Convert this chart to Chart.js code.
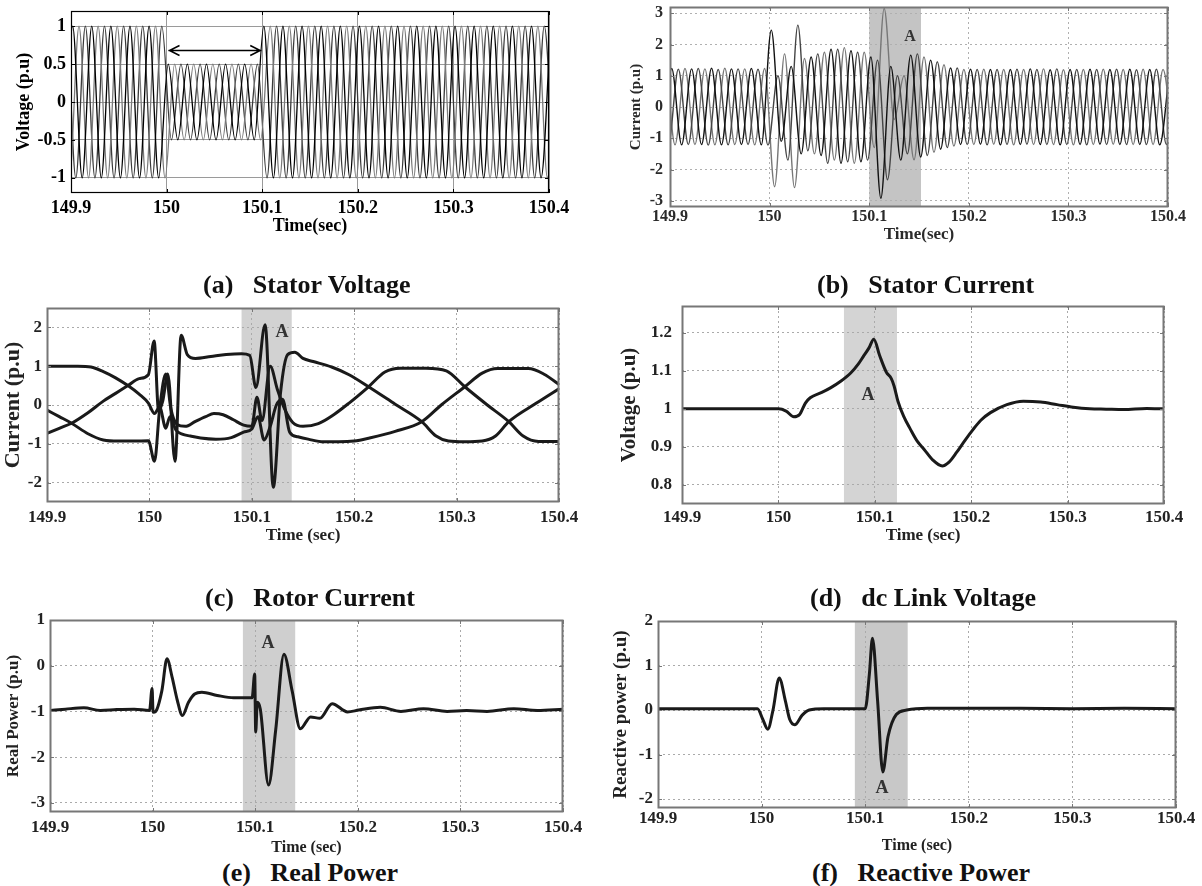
<!DOCTYPE html>
<html>
<head>
<meta charset="utf-8">
<script src="https://cdn.jsdelivr.net/npm/chart.js@4.4.1/dist/chart.umd.min.js"></script>
<style>
  html, body { margin: 0; padding: 0; background: #fff; }
  #fig { position: relative; width: 1202px; height: 886px; overflow: hidden; background: #fff; }
  #fig canvas { position: absolute; }
  .cap { position: absolute; font: bold 26px "Liberation Serif", "Times New Roman", serif; color: #111;
         white-space: pre; transform: translateY(-50%); line-height: 1; }
</style>
</head>
<body>
<div id="fig">
  <canvas id="cvA"></canvas>
  <canvas id="cvB"></canvas>
  <canvas id="cvC"></canvas>
  <canvas id="cvD"></canvas>
  <canvas id="cvE"></canvas>
  <canvas id="cvF"></canvas>
  <div class="cap" style="left:203px;top:285px">(a)   Stator Voltage</div>
  <div class="cap" style="left:817px;top:285px">(b)   Stator Current</div>
  <div class="cap" style="left:205px;top:598px">(c)   Rotor Current</div>
  <div class="cap" style="left:810px;top:598px">(d)   dc Link Voltage</div>
  <div class="cap" style="left:222px;top:873px">(e)   Real Power</div>
  <div class="cap" style="left:812px;top:873px">(f)   Reactive Power</div>
</div>
<script>
// ---- tick labels ----
const timeTicks = [149.9, 150, 150.1, 150.2, 150.3, 150.4];
const voltTicks = [-1, -0.5, 0, 0.5, 1];
const statorCurTicks = [-3, -2, -1, 0, 1, 2, 3];
const rotorCurTicks = [-2, -1, 0, 1, 2];
const dcTicks = [0.8, 0.9, 1, 1.1, 1.2];
const realTicks = [-3, -2, -1, 0, 1];
const reactTicks = [-2, -1, 0, 1, 2];

// ---- (a) stator voltage: peak value of every half cycle, per phase (50 Hz) ----
const halfCycle = 0.01;
const peakStart = 149.8817;
const phaseShift = { a: 0, c: 0.00333, b: 0.00667 };

const voltPeaksA = [
  1, -1, 1, -1, 1, -1, 1, -1, 1, -1, 1, -1,
  0.5, -0.5, 0.5, -0.5, 0.5, -0.5, 0.5, -0.5, 0.5, -0.5,
  1, -1, 1, -1, 1, -1, 1, -1, 1, -1, 1, -1, 1, -1, 1, -1,
  1, -1, 1, -1, 1, -1, 1, -1, 1, -1, 1, -1, 1, -1, 1
];
const voltPeaksB = [
  1, -1, 1, -1, 1, -1, 1, -1, 1, -1, 1, -1,
  0.5, -0.5, 0.5, -0.5, 0.5, -0.5, 0.5, -0.5, 0.5, -0.5,
  1, -1, 1, -1, 1, -1, 1, -1, 1, -1, 1, -1, 1, -1, 1, -1,
  1, -1, 1, -1, 1, -1, 1, -1, 1, -1, 1, -1, 1, -1, 1
];
const voltPeaksC = [
  -1, 1, -1, 1, -1, 1, -1, 1, -1, 1, -1, 1,
  -0.5, 0.5, -0.5, 0.5, -0.5, 0.5, -0.5, 0.5, -0.5, 0.5,
  -1, 1, -1, 1, -1, 1, -1, 1, -1, 1, -1, 1, -1, 1, -1, 1,
  -1, 1, -1, 1, -1, 1, -1, 1, -1, 1, -1, 1, -1, 1, -1
];

// ---- (b) stator current: peak of every half cycle, per phase ----
const curPeaksA = [
  1.22, -1.2, 1.23, -1.21, 1.22, -1.2, 1.24, -1.21, 1.22, -1.2, 1.23, -1.21,
  2.46, -1.1, 1.3, -1.5, 1.6, -1.55, 1.85, -1.8, 1.8, -1.75,
  1.6, -2.92, 1.3, -1.7, 1.66, -1.6, 1.5, -1.35, 1.25,
  -1.2, 1.21, -1.19, 1.2, -1.21, 1.2, -1.2, 1.22, -1.2, 1.19, -1.21,
  1.2, -1.2, 1.21, -1.19, 1.2, -1.2, 1.21, -1.2, 1.2, -1.21, 1.2
];
const curPeaksC = [
  -1.2, 1.22, -1.21, 1.23, -1.2, 1.22, -1.21, 1.24, -1.2, 1.22, -1.21, 1.23,
  -2.55, 1.7, -2.58, 1.55, -1.5, 1.75, -1.7, 1.9, -1.8, 1.75,
  -1.3, 3.15, -0.4, 1.0, -1.69, 1.6, -1.45, 1.35, -1.25,
  1.2, -1.2, 1.21, -1.19, 1.2, -1.21, 1.2, -1.2, 1.22, -1.2, 1.19,
  -1.21, 1.2, -1.2, 1.21, -1.19, 1.2, -1.2, 1.21, -1.2, 1.2, -1.21
];
const curPeaksB = [
  1.2, -1.22, 1.21, -1.2, 1.23, -1.22, 1.2, -1.21, 1.22, -1.2, 1.21, -1.22,
  1.0, -1.7, 2.62, -1.4, 1.7, -1.8, 1.85, -1.75, 1.75, -1.7,
  1.5, -2.33, 1.0, -1.5, 1.7, -1.55, 1.45, -1.3, 1.25,
  -1.2, 1.2, -1.21, 1.2, -1.2, 1.21, -1.19, 1.2, -1.2, 1.22, -1.2,
  1.2, -1.21, 1.2, -1.2, 1.21, -1.2, 1.19, -1.2, 1.21, -1.2, 1.2
];

// ---- (c) rotor current, three phases ----
const rotorTimeA = [149.9, 149.915, 149.93, 149.943, 149.955, 149.967, 149.979, 149.99, 149.999, 150.005,
  150.01, 150.016, 150.02, 150.026, 150.032, 150.04, 150.05, 150.065, 150.08, 150.092,
  150.1, 150.106, 150.112, 150.118, 150.124, 150.13, 150.137, 150.145, 150.155, 150.17,
  150.185, 150.2, 150.215, 150.24, 150.266, 150.285, 150.308, 150.325, 150.34, 150.37,
  150.385, 150.403];
const rotorCurA = [1.0, 1.0, 1.0, 0.98, 0.86, 0.7, 0.5, 0.28, 0.05, -0.22,
  -0.05, -0.6, -0.3, -0.65, -0.75, -0.8, -0.85, -0.88, -0.84, -0.7,
  -0.62, -0.3, -0.9, -0.55, 0.0, 0.15, -0.7, -0.82, -0.88, -0.95,
  -0.95, -0.93, -0.85, -0.68, -0.43, 0.0, 0.47, 0.82, 0.94, 0.94,
  0.8, 0.47];
const rotorTimeB = [149.9, 149.912, 149.924, 149.94, 149.955, 149.97, 149.985, 149.999, 150.005, 150.01,
  150.016, 150.021, 150.027, 150.035, 150.045, 150.055, 150.063, 150.072, 150.082, 150.092,
  150.1, 150.105, 150.11, 150.118, 150.125, 150.132, 150.14, 150.15, 150.165, 150.18,
  150.195, 150.214, 150.23, 150.245, 150.27, 150.29, 150.308, 150.33, 150.351, 150.365,
  150.38, 150.4];
const rotorCurB = [-0.13, -0.3, -0.47, -0.74, -0.9, -0.93, -0.93, -0.92, -1.45, -0.1,
  0.8, -0.1, -0.5, -0.55, -0.42, -0.3, -0.22, -0.25, -0.38, -0.52,
  -0.55, 0.2, -0.4, 1.0, 0.4, -0.1, -0.45, -0.55, -0.48, -0.25,
  0.05, 0.47, 0.85, 0.95, 0.95, 0.88, 0.47, 0.0, -0.43, -0.8,
  -0.94, -0.94];
const rotorTimeC = [149.9, 149.912, 149.924, 149.94, 149.955, 149.967, 149.979, 149.99, 149.999, 150.0046,
  150.009, 150.013, 150.018, 150.025, 150.031, 150.037, 150.045, 150.06, 150.075, 150.09,
  150.098, 150.104, 150.113, 150.121, 150.128, 150.135, 150.142, 150.15, 150.16, 150.178,
  150.195, 150.214, 150.24, 150.266, 150.28, 150.292, 150.308, 150.325, 150.338, 150.351,
  150.378, 150.403];
const rotorCurC = [-0.73, -0.6, -0.47, -0.2, 0.1, 0.3, 0.5, 0.68, 0.78, 1.65,
  -0.15, 0.1, 0.8, -1.45, 1.8, 1.3, 1.2, 1.25, 1.3, 1.32,
  1.28, 0.45, 2.07, -2.12, 0.3, 1.3, 1.36, 1.2, 1.12, 0.98,
  0.78, 0.47, 0.02, -0.43, -0.8, -0.93, -0.95, -0.93, -0.8, -0.43,
  0.05, 0.47];

// ---- (d) dc link voltage ----
const dcTime = [149.9, 150.0, 150.008, 150.016, 150.022, 150.028, 150.033, 150.045, 150.054, 150.065,
  150.075, 150.083, 150.088, 150.094, 150.099, 150.105, 150.112, 150.117, 150.12, 150.124,
  150.13, 150.137, 150.144, 150.151, 150.16, 150.17, 150.177, 150.185, 150.193, 150.202,
  150.21, 150.22, 150.237, 150.254, 150.272, 150.289, 150.306, 150.323, 150.34, 150.358,
  150.382, 150.4];
const dcVolt = [1.0, 1.0, 0.994, 0.979, 0.985, 1.015, 1.029, 1.043, 1.055, 1.073,
  1.094, 1.118, 1.137, 1.16, 1.183, 1.14, 1.096, 1.08, 1.06, 1.02,
  0.98, 0.946, 0.915, 0.894, 0.866, 0.85, 0.86, 0.886, 0.915, 0.946,
  0.97, 0.99, 1.011, 1.02, 1.018, 1.011, 1.004, 1.0, 0.999, 0.998,
  1.001, 1.0];

// ---- (e) real power ----
const realTime = [149.9, 149.915, 149.933, 149.949, 149.965, 149.982, 149.997, 149.9995, 150.0005, 150.003,
  150.009, 150.014, 150.019, 150.024, 150.029, 150.035, 150.041, 150.048, 150.063, 150.079,
  150.097, 150.0995, 150.1005, 150.102, 150.105, 150.113, 150.12, 150.128, 150.136, 150.144,
  150.154, 150.163, 150.175, 150.19, 150.201, 150.222, 150.242, 150.264, 150.287, 150.306,
  150.326, 150.352, 150.375, 150.4];
const realPower = [-0.98, -0.95, -0.92, -0.98, -0.96, -0.95, -0.98, -0.5, -1.02, -1.0,
  -0.55, 0.15, -0.25, -0.75, -1.09, -0.8, -0.62, -0.58, -0.65, -0.7,
  -0.7, -0.18, -1.45, -0.8, -0.95, -2.61, -1.4, 0.25, -0.55, -1.38,
  -1.12, -1.15, -0.83, -1.01, -0.97, -0.91, -1.0, -0.94, -1.0, -0.98,
  -1.0, -0.94, -0.98, -0.95];

// ---- (f) reactive power ----
const reactTime = [149.9, 149.95, 149.996, 150.001, 150.006, 150.011, 150.017, 150.023, 150.027, 150.032,
  150.039, 150.046, 150.06, 150.1, 150.104, 150.107, 150.112, 150.117, 150.122, 150.13,
  150.14, 150.16, 150.2, 150.25, 150.3, 150.35, 150.4];
const reactPower = [0.03, 0.03, 0.03, -0.2, -0.43, 0.0, 0.72, 0.2, -0.2, -0.33,
  -0.12, 0.0, 0.03, 0.03, 0.8, 1.61, 0.2, -1.39, -0.6, -0.1,
  0.0, 0.04, 0.04, 0.04, 0.03, 0.04, 0.03];

// ---- helpers ----
function wavePoints(peaks, shift) {
  return peaks.map((v, k) => ({ x: peakStart + shift + k * halfCycle, y: v }));
}
function zipPoints(ts, vs) {
  return ts.map((t, i) => ({ x: t, y: vs[i] }));
}
function fmtTick(v) {
  return String(Math.round(v * 100) / 100);
}
const SERIF = "'Liberation Serif', 'Times New Roman', serif";

// shading, "A" notes, arrow and matlab-like frame
const panelDecor = {
  id: 'panelDecor',
  beforeDraw(chart, args, o) {
    if (!o.shade) return;
    const { ctx, chartArea: a } = chart;
    const x = chart.scales.x;
    const x0 = x.getPixelForValue(o.shade[0]);
    const x1 = x.getPixelForValue(o.shade[1]);
    ctx.save();
    ctx.fillStyle = o.shadeColor;
    ctx.fillRect(x0, a.top, x1 - x0, a.bottom - a.top);
    ctx.restore();
  },
  afterDatasetsDraw(chart, args, o) {
    const { ctx } = chart;
    const { x, y } = chart.scales;
    if (o.arrow) {
      const ax0 = x.getPixelForValue(o.arrow.from);
      const ax1 = x.getPixelForValue(o.arrow.to);
      const ay = Math.round(y.getPixelForValue(o.arrow.at)) + 0.5;
      ctx.save();
      ctx.strokeStyle = '#000';
      ctx.lineWidth = 1.5;
      ctx.beginPath();
      ctx.moveTo(ax0, ay); ctx.lineTo(ax1, ay);
      ctx.moveTo(ax0 + 11, ay - 5); ctx.lineTo(ax0 + 1, ay); ctx.lineTo(ax0 + 11, ay + 5);
      ctx.moveTo(ax1 - 11, ay - 5); ctx.lineTo(ax1 - 1, ay); ctx.lineTo(ax1 - 11, ay + 5);
      ctx.stroke();
      ctx.restore();
    }
    (o.notes || []).forEach(n => {
      ctx.save();
      ctx.font = n.font;
      ctx.fillStyle = n.color;
      ctx.textAlign = 'center';
      ctx.textBaseline = 'middle';
      ctx.fillText(n.text, x.getPixelForValue(n.x), y.getPixelForValue(n.y));
      ctx.restore();
    });
  },
  afterDraw(chart, args, o) {
    const { ctx, chartArea: a } = chart;
    const { x, y } = chart.scales;
    ctx.save();
    ctx.strokeStyle = o.frameColor || '#000';
    ctx.lineWidth = o.frameWidth || 1;
    ctx.strokeRect(a.left + 0.5, a.top + 0.5, a.right - a.left - 1, a.bottom - a.top - 1);
    ctx.lineWidth = 1;
    ctx.beginPath();
    x.ticks.forEach(t => {
      const px = Math.round(x.getPixelForValue(t.value)) + 0.5;
      ctx.moveTo(px, a.bottom); ctx.lineTo(px, a.bottom - 4);
      ctx.moveTo(px, a.top); ctx.lineTo(px, a.top + 4);
    });
    y.ticks.forEach(t => {
      const py = Math.round(y.getPixelForValue(t.value)) + 0.5;
      ctx.moveTo(a.left, py); ctx.lineTo(a.left + 4, py);
      ctx.moveTo(a.right, py); ctx.lineTo(a.right - 4, py);
    });
    ctx.stroke();
    ctx.restore();
  }
};
Chart.register(panelDecor);

const PAD_TOP = 24, PAD_RIGHT = 32;

function buildPanel(p) {
  const cv = document.getElementById(p.id);
  const left = Math.round(p.yTitleX - 0.6 * p.yTitleSize);
  const top = p.area.t - PAD_TOP;
  const right = p.area.r + PAD_RIGHT;
  const bottom = Math.round(p.xTitleY + 0.6 * p.xTitleSize);
  const W = right - left, H = bottom - top;
  cv.width = W; cv.height = H;
  cv.style.left = left + 'px'; cv.style.top = top + 'px';
  cv.style.width = W + 'px'; cv.style.height = H + 'px';
  const wy = p.area.l - left;
  const hx = bottom - p.area.b;
  const xPad = Math.max(0, p.xLabY - p.area.b - 0.6 * p.tickSize);
  const yPad = p.area.l - p.yLabRight;
  const tickFont = { family: SERIF, size: p.tickSize, weight: 'bold' };
  const gridOpts = { color: p.gridColor, lineWidth: 1, drawTicks: false };
  const gridDash = p.gridDash || [];

  new Chart(cv, {
    type: 'line',
    data: {
      datasets: p.series.map(s => ({
        data: s.points,
        borderColor: s.color,
        borderWidth: s.width,
        pointRadius: 0,
        fill: false,
        cubicInterpolationMode: 'monotone'
      }))
    },
    options: {
      responsive: false,
      animation: false,
      events: [],
      layout: { padding: { left: 0, top: PAD_TOP, right: PAD_RIGHT, bottom: 0 } },
      plugins: {
        legend: { display: false },
        tooltip: { enabled: false },
        panelDecor: p.decor
      },
      scales: {
        x: {
          type: 'linear',
          min: 149.9,
          max: 150.4,
          afterFit: s => { s.height = hx; },
          afterBuildTicks: s => { s.ticks = timeTicks.map(v => ({ value: v })); },
          grid: gridOpts,
          border: { display: false, dash: gridDash },
          ticks: { padding: xPad, font: tickFont, color: p.textColor, callback: fmtTick,
                   maxRotation: 0, autoSkip: false },
          title: { display: true, text: p.xTitle, color: p.textColor, padding: 0,
                   font: { family: SERIF, size: p.xTitleSize, weight: 'bold' } }
        },
        y: {
          type: 'linear',
          min: p.yMin,
          max: p.yMax,
          afterFit: s => { s.width = wy; },
          afterBuildTicks: s => { s.ticks = p.yTicks.map(v => ({ value: v })); },
          grid: gridOpts,
          border: { display: false, dash: gridDash },
          ticks: { padding: yPad, font: tickFont, color: p.textColor, callback: fmtTick, autoSkip: false },
          title: { display: true, text: p.yTitle, color: p.textColor, padding: 0,
                   font: { family: SERIF, size: p.yTitleSize, weight: 'bold' } }
        }
      }
    }
  });
}

const noteFont = "bold 18px 'Liberation Serif', serif";

const panels = [
  {
    id: 'cvA', area: { l: 71, t: 11, r: 549, b: 193 },
    yMin: -1.2, yMax: 1.2, yTicks: voltTicks,
    yTitle: 'Voltage (p.u)', xTitle: 'Time(sec)',
    yTitleX: 25, xTitleY: 226, xLabY: 208, yLabRight: 66,
    tickSize: 18, yTitleSize: 18, xTitleSize: 18, textColor: '#000',
    gridColor: '#9a9a9a',
    series: [
      { points: wavePoints(voltPeaksA, phaseShift.a), color: '#000', width: 1.3 },
      { points: wavePoints(voltPeaksB, phaseShift.b), color: '#7a7a7a', width: 1.3 },
      { points: wavePoints(voltPeaksC, phaseShift.c), color: '#3a3a3a', width: 1.3 }
    ],
    decor: { arrow: { from: 150.002, to: 150.099, at: 0.69 }, frameColor: '#000', frameWidth: 1.2 }
  },
  {
    id: 'cvB', area: { l: 670, t: 7, r: 1168, b: 207 },
    yMin: -3.2, yMax: 3.2, yTicks: statorCurTicks,
    yTitle: 'Current (p.u)', xTitle: 'Time(sec)',
    yTitleX: 636, xTitleY: 235, xLabY: 217, yLabRight: 663,
    tickSize: 16, yTitleSize: 15, xTitleSize: 17, textColor: '#2a2a2a',
    gridColor: '#b0b0b0', gridDash: [2, 3],
    series: [
      { points: wavePoints(curPeaksA, phaseShift.a), color: '#111', width: 1.4 },
      { points: wavePoints(curPeaksB, phaseShift.b), color: '#444', width: 1.4 },
      { points: wavePoints(curPeaksC, phaseShift.c), color: '#777', width: 1.4 }
    ],
    decor: { shade: [150.1, 150.152], shadeColor: '#c4c4c4',
             notes: [{ text: 'A', x: 150.141, y: 2.24, font: "bold 16px 'Liberation Serif', serif", color: '#333' }],
             frameColor: '#777', frameWidth: 2 }
  },
  {
    id: 'cvC', area: { l: 47, t: 308, r: 559, b: 502 },
    yMin: -2.5, yMax: 2.5, yTicks: rotorCurTicks,
    yTitle: 'Current (p.u)', xTitle: 'Time (sec)',
    yTitleX: 13, xTitleY: 536, xLabY: 518, yLabRight: 42,
    tickSize: 17, yTitleSize: 22, xTitleSize: 17, textColor: '#222',
    gridColor: '#aaa', gridDash: [2, 3],
    series: [
      { points: zipPoints(rotorTimeA, rotorCurA), color: '#1a1a1a', width: 3 },
      { points: zipPoints(rotorTimeB, rotorCurB), color: '#1a1a1a', width: 3 },
      { points: zipPoints(rotorTimeC, rotorCurC), color: '#1a1a1a', width: 3 }
    ],
    decor: { shade: [150.09, 150.139], shadeColor: '#d2d2d2',
             notes: [{ text: 'A', x: 150.1295, y: 1.88, font: noteFont, color: '#333' }],
             frameColor: '#777', frameWidth: 2 }
  },
  {
    id: 'cvD', area: { l: 682, t: 306, r: 1164, b: 504 },
    yMin: 0.75, yMax: 1.27, yTicks: dcTicks,
    yTitle: 'Voltage (p.u)', xTitle: 'Time (sec)',
    yTitleX: 630, xTitleY: 536, xLabY: 518, yLabRight: 672,
    tickSize: 17, yTitleSize: 21, xTitleSize: 17, textColor: '#222',
    gridColor: '#aaa', gridDash: [2, 3],
    series: [
      { points: zipPoints(dcTime, dcVolt), color: '#1a1a1a', width: 3 }
    ],
    decor: { shade: [150.068, 150.123], shadeColor: '#d4d4d4',
             notes: [{ text: 'A', x: 150.093, y: 1.036, font: noteFont, color: '#333' }],
             frameColor: '#777', frameWidth: 2 }
  },
  {
    id: 'cvE', area: { l: 50, t: 620, r: 563, b: 812 },
    yMin: -3.2, yMax: 1, yTicks: realTicks,
    yTitle: 'Real Power (p.u)', xTitle: 'Time (sec)',
    yTitleX: 13, xTitleY: 847, xLabY: 828, yLabRight: 45,
    tickSize: 17, yTitleSize: 17, xTitleSize: 16, textColor: '#222',
    gridColor: '#aaa', gridDash: [2, 3],
    series: [
      { points: zipPoints(realTime, realPower), color: '#1a1a1a', width: 3 }
    ],
    decor: { shade: [150.088, 150.139], shadeColor: '#cfcfcf',
             notes: [{ text: 'A', x: 150.1125, y: 0.5, font: noteFont, color: '#333' }],
             frameColor: '#777', frameWidth: 2 }
  },
  {
    id: 'cvF', area: { l: 658, t: 621, r: 1176, b: 808 },
    yMin: -2.2, yMax: 2, yTicks: reactTicks,
    yTitle: 'Reactive power (p.u)', xTitle: 'Time (sec)',
    yTitleX: 621, xTitleY: 845, xLabY: 818, yLabRight: 653,
    tickSize: 17, yTitleSize: 19, xTitleSize: 16, textColor: '#222',
    gridColor: '#aaa', gridDash: [2, 3],
    series: [
      { points: zipPoints(reactTime, reactPower), color: '#1a1a1a', width: 3 }
    ],
    decor: { shade: [150.09, 150.141], shadeColor: '#c8c8c8',
             notes: [{ text: 'A', x: 150.1162, y: -1.75, font: noteFont, color: '#333' }],
             frameColor: '#777', frameWidth: 2 }
  }
];

panels.forEach(buildPanel);
</script>
</body>
</html>
